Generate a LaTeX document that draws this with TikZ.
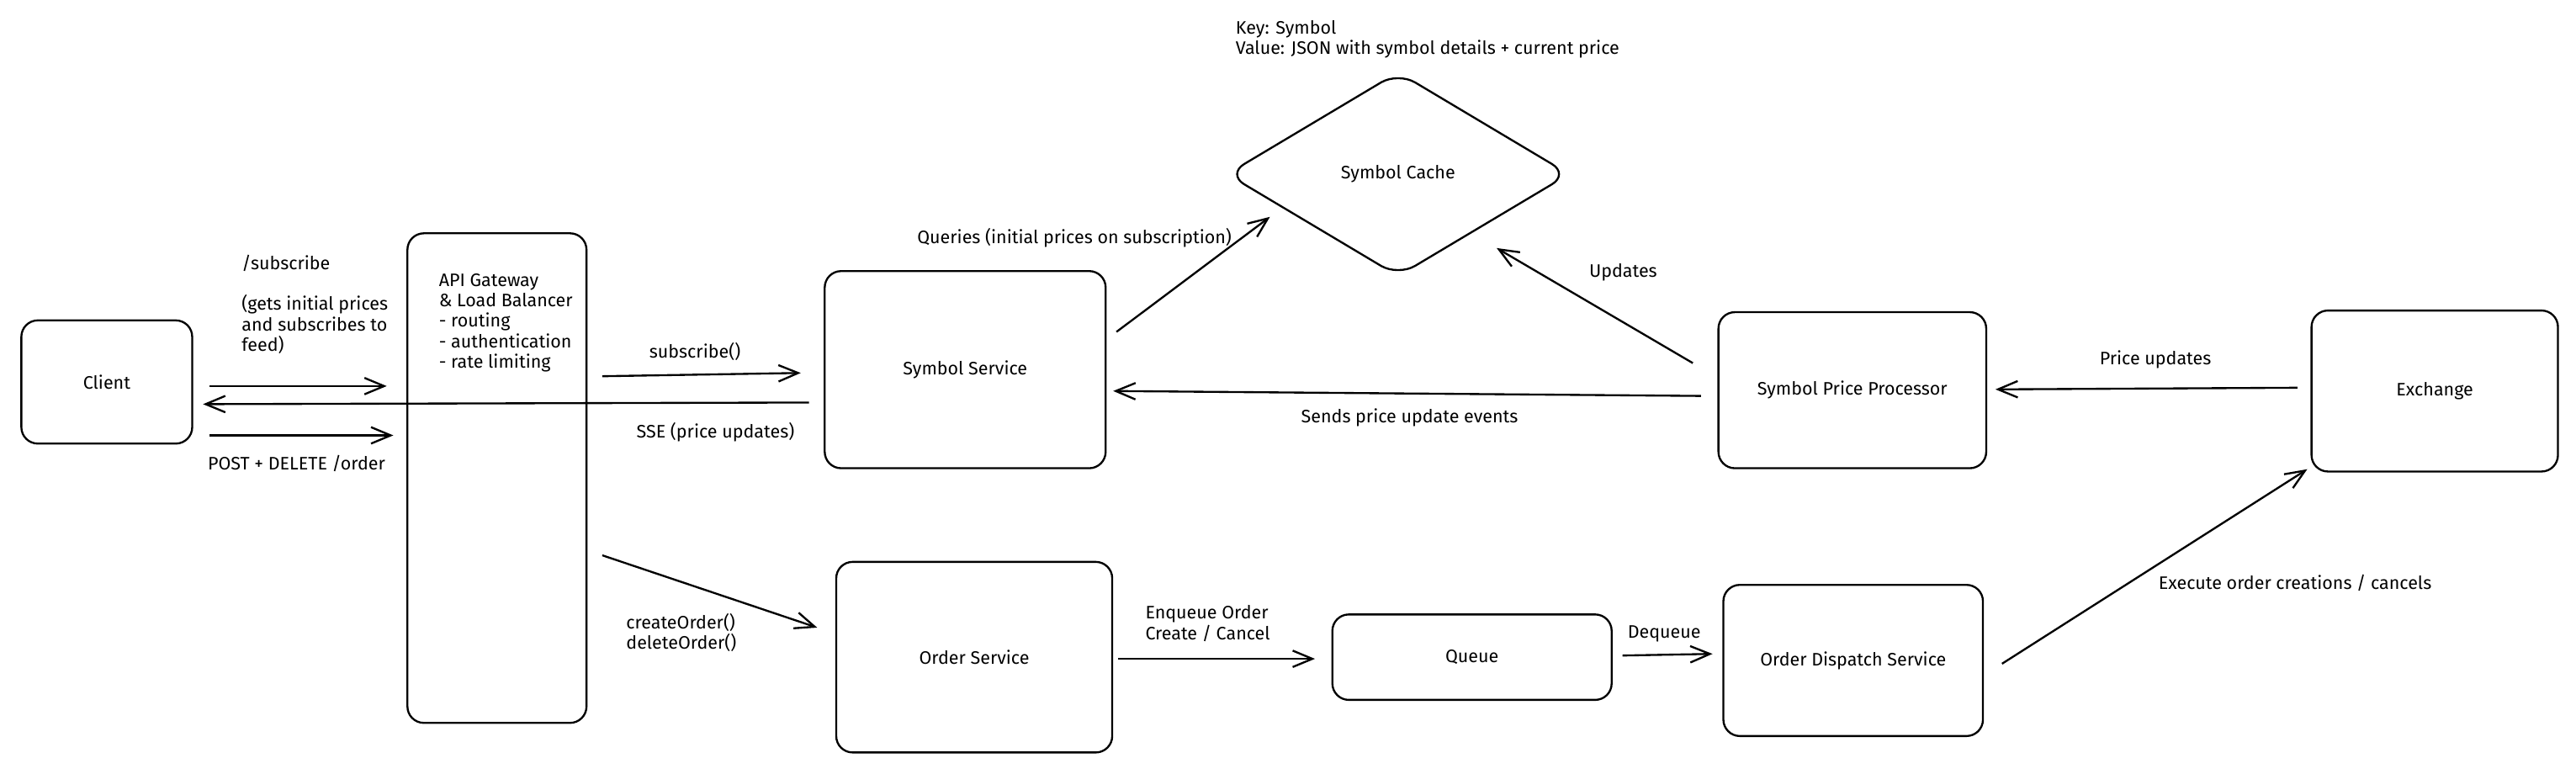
\documentclass[tikz,border=0pt]{standalone}
\usepackage{fontspec}
\setmainfont{Fira Sans}
\usetikzlibrary{arrows.meta,shapes.geometric,calc}
\begin{document}
\begin{tikzpicture}[x=1pt,y=-1pt,
  box/.style={draw, line width=1.2pt, rounded corners=10pt, inner sep=0pt,
    font=\fontsize{11}{12.5}\selectfont},
  lbl/.style={font=\fontsize{11}{12.5}\selectfont, inner sep=0pt, align=left},
  arr/.style={-{Straight Barb[length=12pt,width=10pt]}, line width=1.2pt}]
\useasboundingbox (0,0) rectangle (1568,471);
% boxes
\node[box, minimum width=104pt, minimum height=75pt] (client) at (65,232.5) {Client};
\node[box, minimum width=109pt, minimum height=298pt] (gw) at (302.5,291) {};
\node[box, minimum width=171pt, minimum height=120pt] (symsvc) at (587.5,225) {Symbol Service};
\node[diamond, inner sep=0pt, outer sep=0pt, aspect=1.68,
  minimum width=208pt, minimum height=124pt, font=\fontsize{11}{12.5}\selectfont] (cache) at (851,106) {Symbol Cache};
\draw[line width=1.2pt, rounded corners=12pt] (cache.north) -- (cache.east) -- (cache.south) -- (cache.west) -- cycle;
\node[box, minimum width=163pt, minimum height=95pt] (spp) at (1127.5,237.5) {Symbol Price Processor};
\node[box, minimum width=150pt, minimum height=98pt] (exch) at (1482,238) {Exchange};
\node[box, minimum width=168pt, minimum height=116pt] (ordsvc) at (593,400) {Order Service};
\node[box, minimum width=170pt, minimum height=52pt] (queue) at (896,400) {Queue};
\node[box, minimum width=158pt, minimum height=92pt] (ods) at (1128,402) {Order Dispatch Service};
% texts
\node[lbl, anchor=west] (gwtxt) at (267,196.5) {API Gateway\\\& Load Balancer\\- routing\\- authentication\\- rate limiting};
\node[lbl, anchor=west] (keytxt) at (752,24) {Key: Symbol\\Value: JSON with symbol details + current price};
\node[lbl, anchor=west] (subl) at (147,160) {/subscribe};
\node[lbl, anchor=west] (subd) at (147,197.5) {(gets initial prices\\and subscribes to\\feed)};
\node[lbl] (postl) at (180.5,282) {POST + DELETE /order};
\node[lbl] (ssel) at (435.5,263) {SSE (price updates)};
\node[lbl] (subfl) at (423,214) {subscribe()};
\node[lbl, anchor=west] (ordl) at (381,385) {createOrder()\\deleteOrder()};
\node[lbl] (qryl) at (654,145) {Queries (initial prices on subscription)};
\node[lbl] (updl) at (988,166) {Updates};
\node[lbl] (sendl) at (858,254) {Sends price update events};
\node[lbl] (pricel) at (1312,219) {Price updates};
\node[lbl, anchor=west] (enql) at (697,379.5) {Enqueue Order\\Create / Cancel};
\node[lbl] (deql) at (1013,386) {Dequeue};
\node[lbl] (execl) at (1397,355) {Execute order creations / cancels};
% connectors
\draw[arr] ([shift={(10,2.5)}]client.east) -- ([shift={(-12,-56)}]gw.west);
\draw[arr] ([shift={(-9,20)}]symsvc.west) -- ([shift={(6,13.5)}]client.east);
\draw[arr] ([shift={(10,32.5)}]client.east) -- ([shift={(-8,-26)}]gw.west);
\draw[arr] ([shift={(9,-62)}]gw.east) -- ([shift={(-14,2)}]symsvc.west);
\draw[arr] ([shift={(9,47)}]gw.east) -- ([shift={(-11,-18)}]ordsvc.west);
\draw[arr] ([shift={(6,-23)}]symsvc.east) -- ([shift={(26,26)}]cache.west);
\draw[arr] ([shift={(-15,-16.5)}]spp.west) -- ([shift={(-44,45)}]cache.east);
\draw[arr] ([shift={(-10,3.5)}]spp.west) -- ([shift={(4,13)}]symsvc.east);
\draw[arr] ([shift={(-8,-2)}]exch.west) -- ([shift={(5,-0.5)}]spp.east);
\draw[arr] ([shift={(3,1)}]ordsvc.east) -- ([shift={(-10,1)}]queue.west);
\draw[arr] ([shift={(6,-1)}]queue.east) -- ([shift={(-6,-4)}]ods.west);
\draw[arr] ([shift={(11,2)}]ods.east) -- ([shift={(-2,-2)}]exch.south west);
\end{tikzpicture}
\end{document}
